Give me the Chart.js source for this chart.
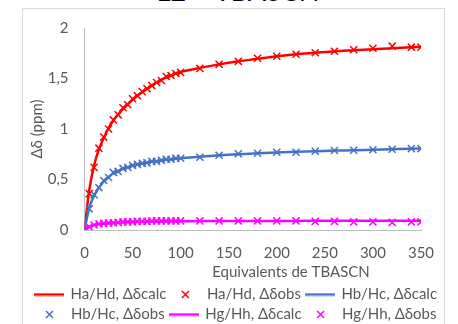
<!DOCTYPE html>
<html>
<head>
<meta charset="utf-8">
<script src="https://cdn.jsdelivr.net/npm/chart.js@4"></script>
<style>
  html, body { margin: 0; padding: 0; background: #fff; overflow: hidden; }
  #wrap { position: relative; width: 458px; height: 324px; overflow: hidden; }
  #frame { position: absolute; left: 22px; top: 8px; width: 421px; height: 340px; border: 1px solid #d9d9d9; }
  #title { position: absolute; left: 9px; width: 458px; top: -26px; text-align: center; font: 27px Lato, sans-serif; color: #000; }
  canvas { position: absolute; left: 0; top: 0; }
</style>
</head>
<body>
<div id="wrap">
  <div id="frame"></div>
  <div id="title">L2 + TBASCN</div>
  <canvas id="chart" width="458" height="324"></canvas>
</div>
<script>
const equivalents = [0, 5, 10, 15, 20, 25, 30, 35, 40, 45, 50, 55, 60, 65, 70, 75, 80, 85, 90, 95, 100,
  120, 140, 160, 180, 200, 220, 240, 260, 280, 300, 320, 340, 350];

const haCalc = [0, 0.40, 0.64, 0.80, 0.91, 1.01, 1.085, 1.145, 1.20, 1.245, 1.29, 1.33, 1.365, 1.40, 1.43, 1.46, 1.49, 1.51, 1.53, 1.55, 1.565,
  1.605, 1.64, 1.67, 1.695, 1.72, 1.74, 1.755, 1.77, 1.78, 1.79, 1.80, 1.81, 1.815];
const haObs = [0, 0.36, 0.62, 0.81, 0.92, 1.00, 1.09, 1.14, 1.21, 1.24, 1.30, 1.33, 1.37, 1.40, 1.43, 1.46, 1.48, 1.52, 1.53, 1.55, 1.56,
  1.60, 1.64, 1.67, 1.70, 1.72, 1.74, 1.755, 1.77, 1.785, 1.80, 1.82, 1.81, 1.81];

const hbCalc = [0, 0.22, 0.34, 0.42, 0.48, 0.525, 0.56, 0.585, 0.605, 0.62, 0.635, 0.648, 0.658, 0.667, 0.675, 0.682, 0.689, 0.695, 0.70, 0.705, 0.71,
  0.725, 0.74, 0.75, 0.76, 0.768, 0.775, 0.78, 0.786, 0.79, 0.795, 0.80, 0.805, 0.806];
const hbObs = [0, 0.21, 0.35, 0.42, 0.49, 0.52, 0.57, 0.58, 0.61, 0.62, 0.64, 0.65, 0.66, 0.665, 0.68, 0.68, 0.69, 0.70, 0.70, 0.71, 0.71,
  0.72, 0.74, 0.755, 0.76, 0.77, 0.77, 0.78, 0.787, 0.79, 0.795, 0.80, 0.806, 0.806];

const hgCalc = [0, 0.035, 0.05, 0.058, 0.064, 0.068, 0.071, 0.074, 0.076, 0.078, 0.08, 0.081, 0.082, 0.083, 0.084, 0.085, 0.085, 0.086, 0.086, 0.087, 0.087,
  0.088, 0.089, 0.089, 0.09, 0.09, 0.09, 0.091, 0.091, 0.091, 0.092, 0.092, 0.092, 0.092];
const hgObs = [0, 0.03, 0.05, 0.06, 0.065, 0.07, 0.07, 0.075, 0.08, 0.08, 0.08, 0.085, 0.085, 0.085, 0.09, 0.09, 0.09, 0.09, 0.09, 0.09, 0.09,
  0.09, 0.09, 0.09, 0.09, 0.09, 0.09, 0.085, 0.085, 0.08, 0.08, 0.075, 0.08, 0.08];

const seriesNames = ["Ha/Hd, Δδcalc", "Ha/Hd, Δδobs", "Hb/Hc, Δδcalc", "Hb/Hc, Δδobs", "Hg/Hh, Δδcalc", "Hg/Hh, Δδobs"];

const RED = "#ff0000", BLUE = "#4472c4", MAGENTA = "#ff00ff";
const GREY_TEXT = "#595959";
const FONT = "Lato, 'Liberation Sans', sans-serif";

const pts = ys => equivalents.map((x, i) => ({ x: x, y: ys[i] }));

function calcLine(label, ys, color, order) {
  return {
    label, data: pts(ys), order,
    borderColor: color, borderWidth: 2.5,
    pointRadius: 0, pointStyle: "line",
    pointBorderColor: color, pointBorderWidth: 2.5,
    cubicInterpolationMode: "monotone",
    showLine: true, fill: false
  };
}

function obsPoints(label, ys, color, order) {
  return {
    label, data: pts(ys), order,
    showLine: false,
    pointStyle: "crossRot", pointRadius: 5,
    pointBorderColor: color, borderColor: color, backgroundColor: color,
    pointBorderWidth: 1.5, borderWidth: 1.5
  };
}

// small legend symbols: a 30px line for calc, a little x for obs
function lineIcon(color) {
  const c = document.createElement("canvas");
  c.width = 30; c.height = 4;
  const g = c.getContext("2d");
  g.strokeStyle = color; g.lineWidth = 2.5;
  g.beginPath(); g.moveTo(0, 2); g.lineTo(30, 2); g.stroke();
  return c;
}
function crossIcon(color) {
  const c = document.createElement("canvas");
  c.width = 9; c.height = 9;
  const g = c.getContext("2d");
  g.strokeStyle = color; g.lineWidth = 1.5;
  g.beginPath();
  g.moveTo(1, 1); g.lineTo(8, 8);
  g.moveTo(8, 1); g.lineTo(1, 8);
  g.stroke();
  return c;
}
const legendIcons = [lineIcon(RED), crossIcon(RED), lineIcon(BLUE), crossIcon(BLUE), lineIcon(MAGENTA), crossIcon(MAGENTA)];

// x axis title sits right of centre in the original, so it is drawn by hand
const xTitle = {
  id: "xTitle",
  afterDraw(chart) {
    const ctx = chart.ctx;
    ctx.save();
    ctx.font = "15px " + FONT;
    ctx.fillStyle = GREY_TEXT;
    ctx.textAlign = "center";
    ctx.textBaseline = "middle";
    ctx.fillText("Equivalents de TBASCN", 291, 272);
    ctx.restore();
  }
};

new Chart(document.getElementById("chart"), {
  type: "scatter",
  data: {
    datasets: [
      calcLine(seriesNames[0], haCalc, RED, 5),
      obsPoints(seriesNames[1], haObs, RED, 4),
      calcLine(seriesNames[2], hbCalc, BLUE, 3),
      obsPoints(seriesNames[3], hbObs, BLUE, 2),
      calcLine(seriesNames[4], hgCalc, MAGENTA, 1),
      obsPoints(seriesNames[5], hgObs, MAGENTA, 0)
    ]
  },
  options: {
    responsive: false,
    animation: false,
    devicePixelRatio: 1,
    layout: { padding: { left: 14, right: 0, top: 28, bottom: -8 } },
    plugins: {
      tooltip: { enabled: false },
      legend: {
        position: "bottom",
        labels: {
          usePointStyle: true,
          pointStyleWidth: 28,
          boxHeight: 7,
          padding: 5,
          color: GREY_TEXT,
          font: { family: FONT, size: 15 },
          sort: (a, b) => a.datasetIndex - b.datasetIndex,
          generateLabels: chart => {
            const items = Chart.defaults.plugins.legend.labels.generateLabels(chart);
            items.forEach(it => { it.pointStyle = legendIcons[it.datasetIndex]; });
            return items;
          }
        }
      }
    },
    scales: {
      x: {
        type: "linear", min: 0, max: 350,
        grid: { display: false, drawTicks: false },
        border: { display: true, color: "#bfbfbf", width: 1 },
        ticks: { stepSize: 50, color: GREY_TEXT, padding: 14, font: { family: FONT, size: 15 } },
        afterFit: s => { s.height = 52; }
      },
      y: {
        min: 0, max: 2,
        grid: { display: false, drawTicks: false },
        border: { display: true, color: "#bfbfbf", width: 1 },
        ticks: {
          stepSize: 0.5, color: GREY_TEXT, padding: 16, font: { family: FONT, size: 15 },
          callback: v => String(v).replace(".", ",")
        },
        title: { display: true, text: "Δδ (ppm)", color: GREY_TEXT, padding: { top: 14, bottom: 4 }, font: { family: FONT, size: 15 } },
        afterFit: s => { s.width = 70.5; }
      },
      // empty right-hand axis, only there to keep the plot off the right edge
      yRight: {
        position: "right", display: true, min: 0, max: 2,
        grid: { display: false, drawTicks: false },
        border: { display: false },
        ticks: { display: false },
        afterFit: s => { s.width = 37; }
      }
    }
  },
  plugins: [xTitle]
});
</script>
</body>
</html>
